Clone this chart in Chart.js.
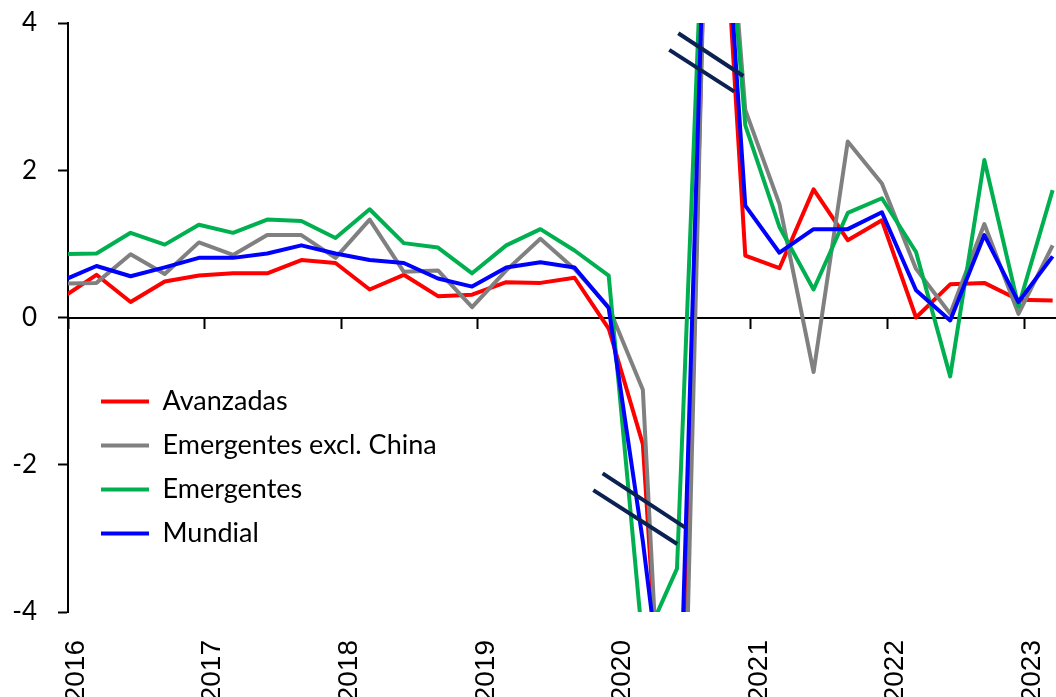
<!DOCTYPE html>
<html>
<head>
<meta charset="utf-8">
<title>Crecimiento trimestral del PIB</title>
<script src="https://cdn.jsdelivr.net/npm/chart.js@4/dist/chart.umd.min.js"></script>
<style>
  html, body { margin: 0; padding: 0; background: #ffffff; }
  #c { display: block; }
</style>
</head>
<body>
<canvas id="c" width="1056" height="697"></canvas>
<script>
// Quarterly growth, % q/q
const quarters = [
  '2015T4',
  '2016T1', '2016T2', '2016T3', '2016T4',
  '2017T1', '2017T2', '2017T3', '2017T4',
  '2018T1', '2018T2', '2018T3', '2018T4',
  '2019T1', '2019T2', '2019T3', '2019T4',
  '2020T1', '2020T2', '2020T3', '2020T4',
  '2021T1', '2021T2', '2021T3', '2021T4',
  '2022T1', '2022T2', '2022T3', '2022T4',
  '2023T1'
];
const avanzadas = [0.27, 0.58, 0.21, 0.49, 0.57, 0.60, 0.60, 0.78, 0.74, 0.38, 0.58, 0.29, 0.31, 0.48, 0.47, 0.54, -0.15, -1.72, -9.0, 8.5, 0.84, 0.67, 1.74, 1.05, 1.32, 0.00, 0.45, 0.47, 0.24, 0.23];
const emergentesExclChina = [0.46, 0.47, 0.86, 0.59, 1.02, 0.85, 1.12, 1.12, 0.81, 1.33, 0.62, 0.64, 0.14, 0.64, 1.07, 0.66, 0.14, -0.98, -10.0, 8.7, 2.82, 1.54, -0.74, 2.39, 1.82, 0.66, 0.05, 1.27, 0.05, 0.98];
const emergentes = [0.86, 0.87, 1.15, 0.99, 1.26, 1.15, 1.33, 1.31, 1.08, 1.47, 1.01, 0.95, 0.60, 0.98, 1.20, 0.91, 0.57, -4.45, -3.41, 8.3, 2.61, 1.23, 0.38, 1.42, 1.62, 0.89, -0.80, 2.14, 0.15, 1.73];
const mundial = [0.50, 0.70, 0.56, 0.68, 0.81, 0.81, 0.87, 0.98, 0.87, 0.78, 0.74, 0.53, 0.42, 0.68, 0.75, 0.68, 0.13, -3.04, -6.8, 8.5, 1.52, 0.88, 1.20, 1.20, 1.43, 0.37, -0.04, 1.12, 0.21, 0.83];

const seriesNames = ['Avanzadas', 'Emergentes excl. China', 'Emergentes', 'Mundial'];
const yearTicks = [2016, 2017, 2018, 2019, 2020, 2021, 2022, 2023];
const valueTicks = [-4, -2, 0, 2, 4];

// Axis-break marks (pairs of slanted strokes), in data units: [year, value]
const breakMarks = [
  [[2020.468, 3.861], [2020.944, 3.280]],
  [[2020.402, 3.635], [2020.878, 3.068]],
  [[2019.914, -2.117], [2020.517, -2.851]],
  [[2019.846, -2.344], [2020.460, -3.077]]
];

// Each quarter sits in the middle of its last month on a continuous year axis
function quarterPos(q) {
  const year = parseInt(q.slice(0, 4), 10);
  const n = parseInt(q.slice(5), 10);
  return year + (3 * n - 0.5) / 12;
}
function toPoints(values) {
  return values.map((v, i) => ({ x: quarterPos(quarters[i]), y: v }));
}

const X_MIN = 2016;
const X_MAX = 2023.233;

const breakMarkPlugin = {
  id: 'breakMarks',
  afterDatasetsDraw(chart) {
    const { ctx, scales } = chart;
    const xs = scales.x, ys = scales.y;
    ctx.save();
    ctx.strokeStyle = '#0b2152';
    ctx.lineWidth = 4;
    ctx.lineCap = 'butt';
    breakMarks.forEach(([a, b]) => {
      ctx.beginPath();
      ctx.moveTo(xs.getPixelForValue(a[0]), ys.getPixelForValue(a[1]));
      ctx.lineTo(xs.getPixelForValue(b[0]), ys.getPixelForValue(b[1]));
      ctx.stroke();
    });
    ctx.restore();
  }
};

// Legend sits inside the plot, lower left
const legendPlacement = {
  id: 'legendPlacement',
  afterLayout(chart) {
    const lg = chart.legend;
    if (!lg) return;
    lg.left = 84;
    lg.top = 371;
    lg.width = 520;
    lg.height = 260;
    lg.right = lg.left + lg.width;
    lg.bottom = lg.top + lg.height;
  }
};

const colors = ['#ff0000', '#808080', '#00b050', '#0000ff'];
const seriesData = [avanzadas, emergentesExclChina, emergentes, mundial];

new Chart(document.getElementById('c'), {
  type: 'line',
  data: {
    datasets: seriesData.map((vals, i) => ({
      label: seriesNames[i],
      data: toPoints(vals),
      borderColor: colors[i],
      backgroundColor: colors[i],
      borderWidth: 4,
      pointRadius: 0,
      tension: 0,
      fill: false,
      borderJoinStyle: 'round',
      xAxisID: 'x',
      yAxisID: 'y',
      order: 4 - i
    }))
  },
  options: {
    responsive: false,
    animation: false,
    devicePixelRatio: 1,
    layout: { padding: { top: 23, right: 0, bottom: 0, left: 0 } },
    plugins: {
      tooltip: { enabled: false },
      legend: {
        position: 'chartArea',
        align: 'start',
        labels: {
          boxWidth: 48,
          boxHeight: 4,
          padding: 17,
          color: '#000000',
          font: { family: 'Lato', size: 27 },
          generateLabels: (chart) => chart.data.datasets.map((ds, i) => ({
            text: ds.label,
            fillStyle: ds.borderColor,
            strokeStyle: ds.borderColor,
            lineWidth: 0,
            hidden: false,
            datasetIndex: i
          }))
        }
      }
    },
    scales: {
      x: {
        type: 'linear',
        min: X_MIN,
        max: X_MAX,
        position: { y: 0 },
        afterBuildTicks: (s) => { s.ticks = yearTicks.map(v => ({ value: v })); },
        ticks: { display: false },
        grid: {
          display: true, drawOnChartArea: false, drawTicks: true,
          tickLength: 10, tickWidth: 2, color: '#000000'
        },
        border: { display: true, color: '#000000', width: 2 }
      },
      xLabels: {
        type: 'linear',
        axis: 'x',
        min: X_MIN,
        max: X_MAX,
        position: 'bottom',
        afterBuildTicks: (s) => { s.ticks = yearTicks.map(v => ({ value: v })); },
        afterFit: (s) => {
          s.height = 85;
          s.paddingLeft = 0;
          s.paddingRight = 0;
        },
        grid: { display: false },
        border: { display: false },
        ticks: {
          autoSkip: false,
          minRotation: 90,
          maxRotation: 90,
          padding: 20,
          labelOffset: 8,
          color: '#000000',
          font: { family: 'Liberation Sans', size: 28 },
          callback: (v) => String(v)
        }
      },
      y: {
        type: 'linear',
        min: -4,
        max: 4,
        position: 'left',
        afterBuildTicks: (s) => { s.ticks = valueTicks.map(v => ({ value: v })); },
        afterFit: (s) => {
          s.width = 68;
          s.paddingTop = 0;
          s.paddingBottom = 0;
        },
        ticks: {
          padding: 21,
          color: '#000000',
          font: { family: 'Lato', size: 26 },
          callback: (v) => String(v)
        },
        grid: {
          display: true, drawOnChartArea: false, drawTicks: true,
          tickLength: 10, tickWidth: 2, color: '#000000'
        },
        border: { display: true, color: '#000000', width: 2 }
      }
    }
  },
  plugins: [legendPlacement, breakMarkPlugin]
});
</script>
</body>
</html>
